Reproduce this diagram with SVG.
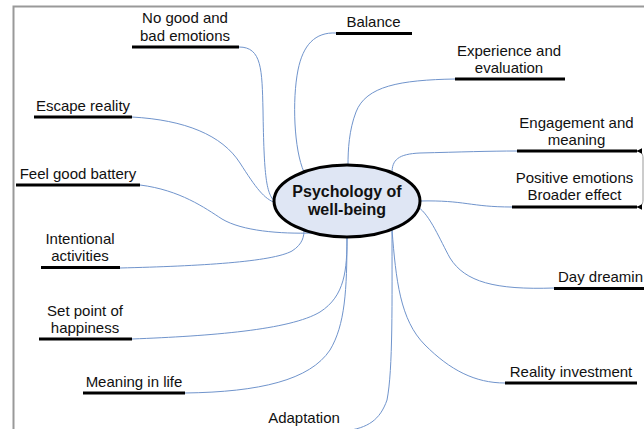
<svg xmlns="http://www.w3.org/2000/svg" width="644" height="429" viewBox="0 0 644 429">
<style>
.t{font-family:"Liberation Sans",Arial,sans-serif;font-size:15px;fill:#111;text-anchor:middle}
.u{stroke:#000;stroke-width:3;fill:none}
.c{stroke:#7094cc;stroke-width:1;fill:none}
.frame{stroke:#999;stroke-width:2;fill:none}
</style>
<defs>
<marker id="ah" viewBox="0 0 10 10" refX="9" refY="5" markerWidth="6" markerHeight="6" orient="auto-start-reverse" markerUnits="userSpaceOnUse">
<path d="M0,0 L10,5 L0,10 z" fill="#000"/>
</marker>
</defs>
<rect width="644" height="429" fill="#fff"/>
<path class="frame" d="M13.5,429 L13.5,6.5 L644,6.5"/>
<g id="connectors">
<path class="c" d="M239,47 C262,47 262,70 263,110 C264,175 266,196 276,202"/>
<path class="c" d="M132,117 C185,120 222,135 240,163 C256,188 264,199 276,203"/>
<path class="c" d="M140,185 C180,190 205,208 222,219 C242,231 280,234 313,233"/>
<path class="c" d="M120,268 C200,266 272,262 292,251 C303,244 304,236 304,230"/>
<path class="c" d="M132,339 C210,336 290,330 320,312 C345,296 347,270 347,237"/>
<path class="c" d="M185,393 C260,392 310,380 330,350 C345,325 347,290 347,237"/>
<path class="c" d="M392,230 C392,300 393,370 387,400 C380,420 368,428 345,431"/>
<path class="c" d="M392,230 C396,280 400,320 425,345 C450,370 475,383 505,383"/>
<path class="c" d="M418,207 C430,215 440,240 450,258 C465,282 495,290 554,288"/>
<path class="c" d="M420,201 C465,200 470,207 512,207"/>
<path class="c" d="M392,173 C392,160 398,154 420,153 C460,152 490,151 517,151"/>
<path class="c" d="M455,79 C400,80 366,86 356,112 C349,130 348,150 348,165"/>
<path class="c" d="M336,33 C315,32 303,45 298,70 C292,100 294,150 304,172"/>
<path d="M637,151 C641,151 643,154 643,158 L643,200 C643,204 641,207 637,207" stroke="#999" stroke-width="1" fill="none" marker-start="url(#ah)" marker-end="url(#ah)"/>
</g>
<g id="center">
<ellipse cx="347" cy="201" rx="73" ry="36" fill="#dfe6f4" stroke="#000" stroke-width="3"/>
<text class="t" x="347" y="197" style="font-size:16px;font-weight:bold">Psychology of</text>
<text class="t" x="347" y="215" style="font-size:16px;font-weight:bold">well-being</text>
</g>
<g id="n-nogood">
<text class="t" x="185" y="23">No good and</text>
<text class="t" x="185" y="40.5">bad emotions</text>
<line class="u" x1="132" y1="47" x2="239" y2="47"/>
</g>
<g id="n-escape">
<text class="t" x="83" y="110.5">Escape reality</text>
<line class="u" x1="34" y1="117" x2="132" y2="117"/>
</g>
<g id="n-feelgood">
<text class="t" x="78" y="178.5">Feel good battery</text>
<line class="u" x1="16" y1="185" x2="140" y2="185"/>
</g>
<g id="n-intentional">
<text class="t" x="80" y="244">Intentional</text>
<text class="t" x="80" y="261">activities</text>
<line class="u" x1="41" y1="267.5" x2="120" y2="267.5"/>
</g>
<g id="n-setpoint">
<text class="t" x="85" y="315.5">Set point of</text>
<text class="t" x="85" y="332.5">happiness</text>
<line class="u" x1="39" y1="339" x2="132" y2="339"/>
</g>
<g id="n-meaning">
<text class="t" x="134" y="386.5">Meaning in life</text>
<line class="u" x1="83" y1="393" x2="185" y2="393"/>
</g>
<g id="n-adaptation">
<text class="t" x="304" y="423">Adaptation</text>
</g>
<g id="n-reality">
<text class="t" x="571" y="376.5">Reality investment</text>
<line class="u" x1="505" y1="383" x2="637" y2="383"/>
</g>
<g id="n-daydream">
<text class="t" x="558" y="282" style="text-anchor:start">Day dreamin</text>
<line class="u" x1="554" y1="288.5" x2="644" y2="288.5"/>
</g>
<g id="n-positive">
<text class="t" x="574.5" y="183">Positive emotions</text>
<text class="t" x="574.5" y="200">Broader effect</text>
<line class="u" x1="512" y1="207" x2="637" y2="207"/>
</g>
<g id="n-engagement">
<text class="t" x="576.5" y="127.5">Engagement and</text>
<text class="t" x="576.5" y="144.5">meaning</text>
<line class="u" x1="517" y1="151" x2="637" y2="151"/>
</g>
<g id="n-experience">
<text class="t" x="509" y="55.5">Experience and</text>
<text class="t" x="509" y="72.5">evaluation</text>
<line class="u" x1="455" y1="79" x2="565" y2="79"/>
</g>
<g id="n-balance">
<text class="t" x="373.5" y="27">Balance</text>
<line class="u" x1="336" y1="33.5" x2="412" y2="33.5"/>
</g>
</svg>
